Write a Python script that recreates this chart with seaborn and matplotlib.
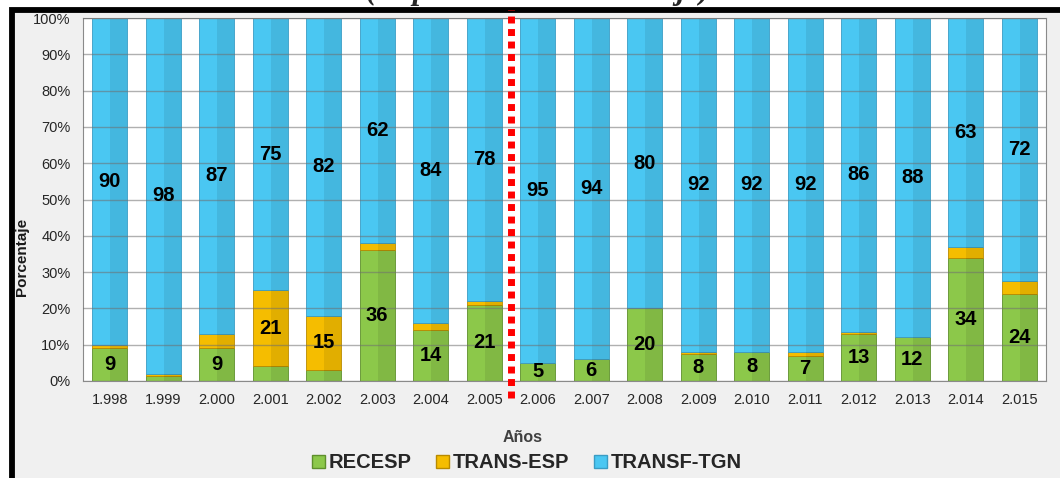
import matplotlib
matplotlib.use("Agg")
import matplotlib.pyplot as plt
import seaborn as sns
import pandas as pd
from matplotlib.patches import Rectangle, Patch

# ---------------- data ----------------
years = ["1.998", "1.999", "2.000", "2.001", "2.002", "2.003", "2.004", "2.005", "2.006",
         "2.007", "2.008", "2.009", "2.010", "2.011", "2.012", "2.013", "2.014", "2.015"]
recesp = [9, 1.5, 9, 4, 3, 36, 14, 21, 5, 6, 20, 7.5, 8, 7, 13, 12, 34, 24]
trans_esp = [1, 0.5, 4, 21, 15, 2, 2, 1, 0, 0, 0, 0.5, 0, 1, 0.5, 0, 3, 3.5]
transf_tgn = [90, 98, 87, 75, 82, 62, 84, 78, 95, 94, 80, 92, 92, 92, 86.5, 88, 63, 72.5]
yticks = [0, 10, 20, 30, 40, 50, 60, 70, 80, 90, 100]
ytick_labels = [f"{v}%" for v in yticks]
series_names = ["RECESP", "TRANS-ESP", "TRANSF-TGN"]
title = "(Expresado en Porcentaje)"

# ---------------- style ----------------
sns.set_theme(style="white")
plt.rcParams["font.family"] = ["Liberation Sans", "DejaVu Sans"]

W, H = 1060, 478
fig = plt.figure(figsize=(W / 100, H / 100), dpi=100, facecolor="white")

# outer frame (light gray panel with thick black top/left border)
frame = Rectangle((12 / W, -0.2), 1.2, 1.2 - 10 / H, transform=fig.transFigure,
                  facecolor="#f0f0f0", edgecolor="black", linewidth=4.2, zorder=-1)
fig.add_artist(frame)

# title, cut off at the top edge as in the reference
fig.text(538 / W, 1 + 1 / H, title, ha="center", va="baseline", fontsize=22.5,
         fontweight="bold", fontstyle="italic", family=["Liberation Serif", "DejaVu Serif"],
         zorder=-2)

ax = fig.add_axes([83 / W, 1 - 381 / H, (1046 - 83) / W, (381 - 18) / H])
ax.set_facecolor("white")

df = pd.DataFrame({"Año": years, "RECESP": recesp, "TRANS-ESP": trans_esp,
                   "TRANSF-TGN": transf_tgn})
bottom_trans = df["RECESP"]
bottom_tgn = df["RECESP"] + df["TRANS-ESP"]

green, yellow, blue = "#8cc84a", "#f5bd00", "#4ac7f2"
bw = 0.66

sns.barplot(data=df, x="Año", y="RECESP", color=green, saturation=1, width=bw,
            edgecolor="#5e8f2c", linewidth=0.6, ax=ax, zorder=2)
c_green = ax.containers[-1]
sns.barplot(data=df, x="Año", y="TRANS-ESP", bottom=list(bottom_trans), color=yellow,
            saturation=1, width=bw, edgecolor="#b88a00", linewidth=0.6, ax=ax, zorder=2)
c_yellow = ax.containers[-1]
sns.barplot(data=df, x="Año", y="TRANSF-TGN", bottom=list(bottom_tgn), color=blue,
            saturation=1, width=bw, edgecolor="#3a9cc4", linewidth=0.6, ax=ax, zorder=2)
c_blue = ax.containers[-1]

# subtle 3-D shading: darker right half of every bar segment
for cont in (c_green, c_yellow, c_blue):
    for p in cont.patches:
        if p.get_height() <= 0:
            continue
        ax.add_patch(Rectangle((p.get_x() + p.get_width() * 0.52, p.get_y()),
                               p.get_width() * 0.48, p.get_height(),
                               facecolor="black", alpha=0.08, linewidth=0, zorder=2.1))

lab_kw = dict(label_type="center", fontsize=14.5, fontweight="bold", color="black")
ax.bar_label(c_green, labels=[f"{v:.0f}" if v >= 4.5 else "" for v in recesp], **lab_kw)
ax.bar_label(c_yellow, labels=[f"{v:.0f}" if v >= 4.5 else "" for v in trans_esp], **lab_kw)
ax.bar_label(c_blue, labels=[f"{v:.0f}" if v >= 4.5 else "" for v in transf_tgn], **lab_kw)

ax.set_xlim(-0.5, len(years) - 0.5)
ax.set_ylim(0, 100)
ax.set_yticks(yticks)
ax.set_yticklabels(ytick_labels)
ax.set_xlabel("")
ax.set_ylabel("")
ax.tick_params(axis="y", length=0, pad=9, labelsize=10.5, labelcolor="#262626")
ax.tick_params(axis="x", length=0, pad=9, labelsize=10.5, labelcolor="#262626")

ax.set_axisbelow(False)
ax.yaxis.grid(True, color="#6f6f6f", alpha=0.55, linewidth=1)
ax.xaxis.grid(False)
for s in ax.spines.values():
    s.set_color("#8a8a8a")
    s.set_linewidth(0.8)

# red dotted separator between 2005 and 2006
ax.axvline(7.5, ymin=-0.047, ymax=1.022, color="#ff0000", linewidth=5,
           linestyle=(0, (1.0, 0.8)), clip_on=False, zorder=6)

fig.text(22 / W, 1 - 257 / H, "Porcentaje", rotation=90, ha="center", va="center",
         fontsize=11, fontweight="bold", color="#1a1a1a")
fig.text(523 / W, 1 - 437 / H, "Años", ha="center", va="center",
         fontsize=11.5, fontweight="bold", color="#404040")

handles = [Patch(facecolor=green, edgecolor="#5e8f2c"),
           Patch(facecolor=yellow, edgecolor="#b88a00"),
           Patch(facecolor=blue, edgecolor="#3a9cc4")]
leg = fig.legend(handles, series_names, loc="center", bbox_to_anchor=(527 / W, 1 - 463 / H),
                 ncol=3, frameon=False, handlelength=0.65, handleheight=0.65,
                 handletextpad=0.2, columnspacing=1.2,
                 prop={"weight": "bold", "size": 14.5})

fig.savefig("out.png", dpi=100, facecolor=fig.get_facecolor())
